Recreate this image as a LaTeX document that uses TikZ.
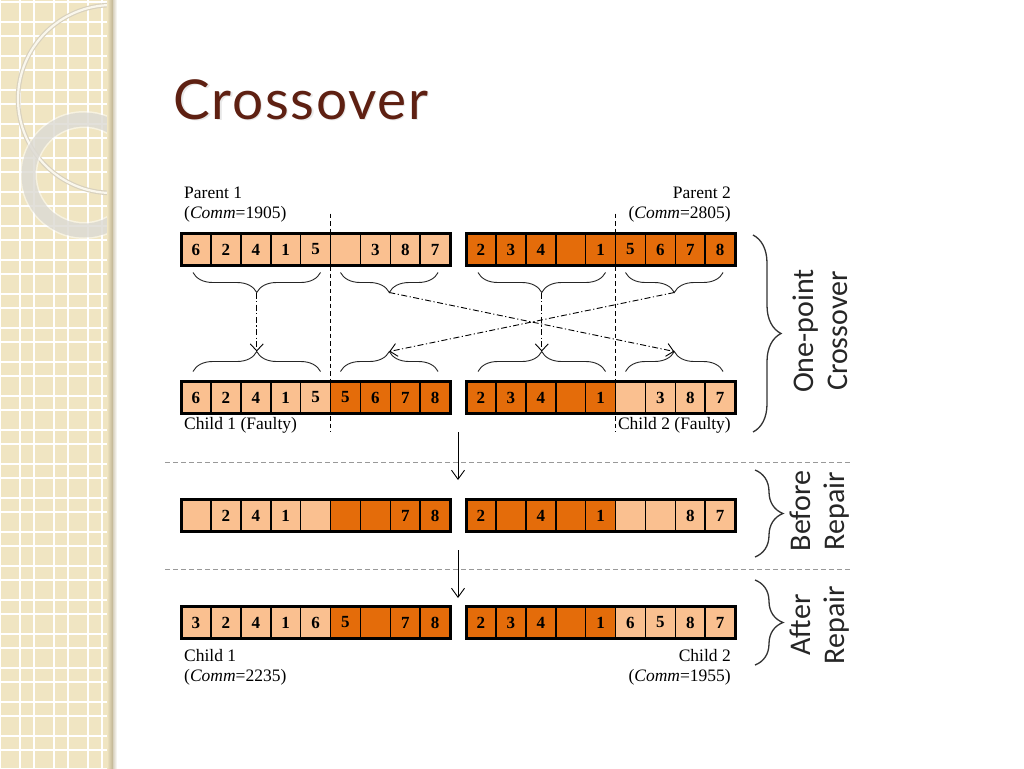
\documentclass[tikz,border=0pt]{standalone}
\usepackage{fontspec}
\setmainfont{Liberation Serif}
\newfontfamily\titlefont[LetterSpace=3]{Lato}
\newfontfamily\sidefont{Carlito}
\usepackage{xcolor}
\usepackage{tikz}
\usetikzlibrary{arrows.meta, positioning, calc, decorations.pathreplacing}
\definecolor{genelight}{RGB}{250,192,144}
\definecolor{genedark}{RGB}{228,108,10}
\definecolor{titlebrown}{RGB}{94,32,18}
\definecolor{panelbeige}{RGB}{240,229,194}
\definecolor{paneltan}{RGB}{190,178,146}
\definecolor{ringgray}{RGB}{214,211,203}

% one chromosome: name, left x, centre y, genes (value/colour)
\newcommand{\chromosome}[4]{%
  \foreach \g/\c [count=\i] in {#4}
    \node[gene, fill=\c] (#1-\i) at ({#2+(\i-0.5)*29.9}, #3) {\g};
  \draw[chrom] (#1-1.north west) rectangle (#1-9.south east);
}

\begin{document}
\begin{tikzpicture}[
  x=1pt, y=-1pt,
  every node/.style={font=\fontsize{17.5}{20}\selectfont},
  gene/.style={draw=black, line width=1.6pt, minimum width=29.9pt, minimum height=32pt, inner sep=0pt, outer sep=0pt, font=\fontsize{17}{17}\selectfont\bfseries},
  chrom/.style={draw=black, line width=3pt},
  lbl/.style={inner sep=0pt},
  curly/.style={decorate, decoration={brace, amplitude=20pt, aspect=0.5}, line width=0.9pt, black!85},
  bigcurly/.style={decorate, decoration={brace, amplitude=28pt, aspect=0.5}, line width=1.3pt, black!80},
  flow/.style={line width=0.9pt, dash pattern=on 6pt off 2.5pt on 1.2pt off 2.5pt, -{Straight Barb[length=7pt, width=13pt]}},
  down/.style={line width=0.9pt, -{Straight Barb[length=9pt, width=13pt]}},
  cut/.style={line width=1.1pt, dash pattern=on 4.5pt off 3pt},
  sep/.style={line width=1pt, gray!80, dash pattern=on 5pt off 3pt},
  side/.style={rotate=90, align=center, text=black!85, font=\sidefont\fontsize{30}{34}\selectfont}
]
  \useasboundingbox (0,0) rectangle (1024,768);
  \fill[white] (0,0) rectangle (1024,768);

  % Slide panel
  \fill[panelbeige] (0,0) rectangle (113,768);
  \foreach \g in {0,34,...,102} {
    \draw[white, line width=1.3pt] (\g,0) -- (\g,768);
    \draw[white, line width=1.3pt] (\g+20,0) -- (\g+20,768);
  }
  \foreach \g in {2,36,...,768} {
    \draw[white, line width=1.3pt] (0,\g) -- (113,\g);
    \draw[white, line width=1.3pt] (0,\g+20) -- (113,\g+20);
  }
  \begin{scope}
    \clip (0,0) rectangle (113,768);
    \draw[line width=4.5pt, paneltan!60] (112,99) circle (94);
    \draw[line width=2.2pt, white!70!panelbeige] (112,99) circle (94);
    \draw[line width=17pt, white, opacity=0.5] (84,175) circle (55.5);
    \draw[line width=14pt, ringgray, opacity=0.7] (84,175) circle (55.5);
  \end{scope}
  \shade[left color=panelbeige, right color=paneltan] (107,0) rectangle (113,768);
  \shade[left color=paneltan!60, right color=white] (113,0) rectangle (117,768);

  % Title
  \node[anchor=west, text=gray!18, font=\titlefont\fontsize{55}{55}\selectfont] (ttlshade) at (171.5,101) {Crossover};
  \node[anchor=west, text=titlebrown, font=\titlefont\fontsize{55}{55}\selectfont] (ttl) at (170,99.5) {Crossover};

  % Parents
  \chromosome{par1}{181}{249.5}{6/genelight,2/genelight,4/genelight,1/genelight,5/genelight,{}/genelight,3/genelight,8/genelight,7/genelight}
  \chromosome{par2}{466}{249.5}{2/genedark,3/genedark,4/genedark,{}/genedark,1/genedark,5/genedark,6/genedark,7/genedark,8/genedark}
  \node[lbl, anchor=west] (par1name) at (184,193) {Parent 1};
  \node[lbl, anchor=west] (par1comm) at (184,214) {(\textit{Comm}=1905)};
  \node[lbl, anchor=east] (par2name) at (731,193) {Parent 2};
  \node[lbl, anchor=east] (par2comm) at (731,214) {(\textit{Comm}=2805)};

  % Faulty children
  \chromosome{kid1}{181}{397.5}{6/genelight,2/genelight,4/genelight,1/genelight,5/genelight,5/genedark,6/genedark,7/genedark,8/genedark}
  \chromosome{kid2}{466}{397.5}{2/genedark,3/genedark,4/genedark,{}/genedark,1/genedark,{}/genelight,3/genelight,8/genelight,7/genelight}
  \node[lbl, anchor=west] (kid1name) at (184,425) {Child 1 (Faulty)};
  \node[lbl, anchor=east] (kid2name) at (731,425) {Child 2 (Faulty)};

  % Braces
  \draw[curly] ($(par1-5.south east)+(-10,7)$) -- ($(par1-1.south west)+(12,7)$) coordinate[midway, yshift=-20pt] (up1L);
  \draw[curly] ($(par1-9.south east)+(-12,7)$) -- ($(par1-6.south west)+(10,7)$) coordinate[midway, yshift=-20pt] (up1R);
  \draw[curly] ($(par2-5.south east)+(-10,7)$) -- ($(par2-1.south west)+(12,7)$) coordinate[midway, yshift=-20pt] (up2L);
  \draw[curly] ($(par2-9.south east)+(-12,7)$) -- ($(par2-6.south west)+(10,7)$) coordinate[midway, yshift=-20pt] (up2R);
  \draw[curly] ($(kid1-1.north west)+(12,-10)$) -- ($(kid1-5.north east)+(-10,-10)$) coordinate[midway, yshift=20pt] (lo1L);
  \draw[curly] ($(kid1-6.north west)+(10,-10)$) -- ($(kid1-9.north east)+(-12,-10)$) coordinate[midway, yshift=20pt] (lo1R);
  \draw[curly] ($(kid2-1.north west)+(12,-10)$) -- ($(kid2-5.north east)+(-10,-10)$) coordinate[midway, yshift=20pt] (lo2L);
  \draw[curly] ($(kid2-6.north west)+(10,-10)$) -- ($(kid2-9.north east)+(-12,-10)$) coordinate[midway, yshift=20pt] (lo2R);

  \draw[flow] (up1L) -- (lo1L);
  \draw[flow] (up2L) -- (lo2L);
  \draw[flow] (up1R) -- (lo2R);
  \draw[flow] (up2R) -- (lo1R);

  % Cut points
  \draw[cut] ([yshift=20pt]par1-5.north east) -- ([yshift=-18pt]kid1-5.south east);
  \draw[cut] ([yshift=20pt]par2-5.north east) -- ([yshift=-18pt]kid2-5.south east);

  % Before repair
  \chromosome{pre1}{181}{515.5}{{}/genelight,2/genelight,4/genelight,1/genelight,{}/genelight,{}/genedark,{}/genedark,7/genedark,8/genedark}
  \chromosome{pre2}{466}{515.5}{2/genedark,{}/genedark,4/genedark,{}/genedark,1/genedark,{}/genelight,{}/genelight,8/genelight,7/genelight}

  % After repair
  \chromosome{fix1}{181}{622.5}{3/genelight,2/genelight,4/genelight,1/genelight,6/genelight,5/genedark,{}/genedark,7/genedark,8/genedark}
  \chromosome{fix2}{466}{622.5}{2/genedark,3/genedark,4/genedark,{}/genedark,1/genedark,6/genelight,5/genelight,8/genelight,7/genelight}
  \node[lbl, anchor=west] (fix1name) at (184,656) {Child 1};
  \node[lbl, anchor=west] (fix1comm) at (184,677) {(\textit{Comm}=2235)};
  \node[lbl, anchor=east] (fix2name) at (731,656) {Child 2};
  \node[lbl, anchor=east] (fix2comm) at (731,677) {(\textit{Comm}=1955)};

  % Stages
  \draw[sep] (165,462) -- (850,462);
  \draw[sep] (165,569) -- (850,569);
  \coordinate (step1a) at (458,432);
  \coordinate (step1b) at (458,480);
  \coordinate (step2a) at (458,550);
  \coordinate (step2b) at (458,598);
  \draw[down] (step1a) -- (step1b);
  \draw[down] (step2a) -- (step2b);

  \draw[bigcurly] (753,235) -- (753,432);
  \draw[bigcurly] (755,470) -- (755,557);
  \draw[bigcurly] (755,580) -- (755,665);
  \node[side] (onept) at (820,331) {One-point\\Crossover};
  \node[side] (before) at (820,511) {Before\\Repair};
  \node[side] (after) at (820,625) {After\\Repair};

\end{tikzpicture}
\end{document}
